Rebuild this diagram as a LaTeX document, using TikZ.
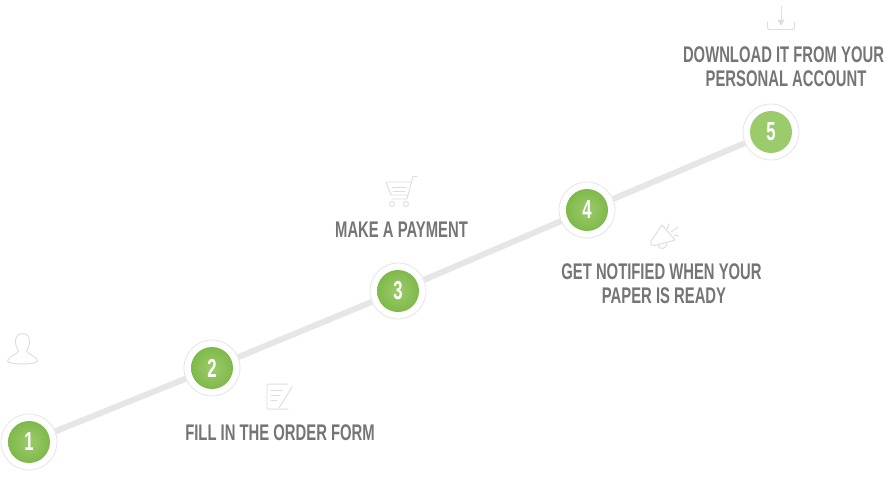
\documentclass[tikz,border=0pt]{standalone}
\usepackage{fontspec}
\usepackage{xcolor}
\newfontfamily\labelfont[FakeStretch=0.655]{Liberation Sans Bold}
\newfontfamily\numfont[FakeStretch=0.64]{Liberation Sans Bold}
\definecolor{trackgray}{HTML}{E6E6E6}
\definecolor{ringgray}{HTML}{E6E6E6}
\definecolor{icongray}{HTML}{DEDEDE}
\definecolor{labelgray}{HTML}{757575}
\definecolor{greenin}{HTML}{9CCB6C}
\definecolor{greenout}{HTML}{76B33F}
\tikzset{
	x=0.025cm, y=-0.025cm,
	stepnode/.style={circle, draw=ringgray, line width=0.6pt, fill=white, minimum size=1.4cm, inner sep=0pt},
	greendisc/.style={path picture={\shade[inner color=greenin, outer color=greenout] (path picture bounding box.center) circle (21);}},
	flatdisc/.style={path picture={\fill[greenin] (path picture bounding box.center) circle (21);}},
	numtext/.style={font=\numfont\fontsize{18.5}{18.5}\selectfont, text=white, inner sep=0pt},
	steptext/.style={font=\labelfont\fontsize{16.1}{17}\selectfont, text=labelgray, align=center, inner sep=0pt},
	iconline/.style={draw=icongray, line width=0.7pt, line join=round, line cap=round},
	trackline/.style={draw=trackgray, line width=0.15cm},
}
\begin{document}
\begin{tikzpicture}
\useasboundingbox (0,0) rectangle (894,488);

\node[stepnode, greendisc] (n1) at (29,442) {};
\node[stepnode, greendisc] (n2) at (212,368) {};
\node[stepnode, greendisc] (n3) at (398,291) {};
\node[stepnode, greendisc] (n4) at (587,210) {};
\node[stepnode, flatdisc] (n5) at (771,132) {};

\draw[trackline] (n1) -- (n2);
\draw[trackline] (n2) -- (n3);
\draw[trackline] (n3) -- (n4);
\draw[trackline] (n4) -- (n5);

\foreach \bit in {1,2,3,4,5}{
	\node[numtext] (t\bit) at (n\bit) {\bit};
}

% labels
\node[steptext] (formtext) at (280,433) {FILL IN THE ORDER FORM};
\node[steptext] (paytext) at (401.5,230) {MAKE A PAYMENT};
\node[steptext] (notifytext1) at (661.5,272) {GET NOTIFIED WHEN YOUR};
\node[steptext] (notifytext2) at (664,296) {PAPER IS READY};
\node[steptext] (loadtext1) at (783.5,55) {DOWNLOAD IT FROM YOUR};
\node[steptext] (loadtext2) at (786,79) {PERSONAL ACCOUNT};

% person
\draw[iconline] (22.5,333.5) .. controls (17,333.5) and (15,338) .. (15.5,343)
	.. controls (16,347) and (18,349) .. (18.5,351)
	.. controls (18.5,354) and (8,356) .. (7.5,361)
	.. controls (8,365) and (37,365) .. (37.5,361)
	.. controls (37,356) and (27,354) .. (26.5,351)
	.. controls (27,349) and (29,347) .. (29.5,343)
	.. controls (30,338) and (28,333.5) .. (22.5,333.5);

% form
\draw[iconline] (288,384) -- (268,384) -- (267,385) -- (267,408) -- (268,409) -- (288,409);
\draw[iconline] (271,390) -- (282,390);
\draw[iconline] (271,395) -- (280,395);
\draw[iconline] (271,400) -- (277,400);
\draw[iconline] (292,387) -- (279,408);

% cart
\draw[iconline] (417,176.5) -- (413,176.5) -- (408,195) -- (391,195) -- (386,182) -- (411,182);
\draw[iconline] (392,187) -- (406,187);
\draw[iconline] (393,191) -- (405,191);
\draw[iconline] (408,195) -- (407,199) -- (392,199);
\draw[iconline] (392,204) circle (2.5);
\draw[iconline] (406,204) circle (2.5);

% megaphone
\draw[iconline] (662,225) -- (651,241) .. controls (650,244) and (652,246) .. (655,245.5) -- (675,240) -- cycle;
\draw[iconline] (658,245) .. controls (659,250) and (666,250) .. (667,243);
\draw[iconline] (669,224) -- (667,229);
\draw[iconline] (678,227) -- (671,232);
\draw[iconline] (679,236) -- (674,235);

% download
\draw[iconline] (781,6) -- (781,24);
\draw[icongray, fill=icongray] (778,20) -- (784,20) -- (781,25) -- cycle;
\draw[iconline] (767.5,22) -- (767.5,27) .. controls (767.5,29) and (768,29.5) .. (770,29.5) -- (792,29.5) .. controls (794,29.5) and (794.5,29) .. (794.5,27) -- (794.5,22);

\end{tikzpicture}
\end{document}
